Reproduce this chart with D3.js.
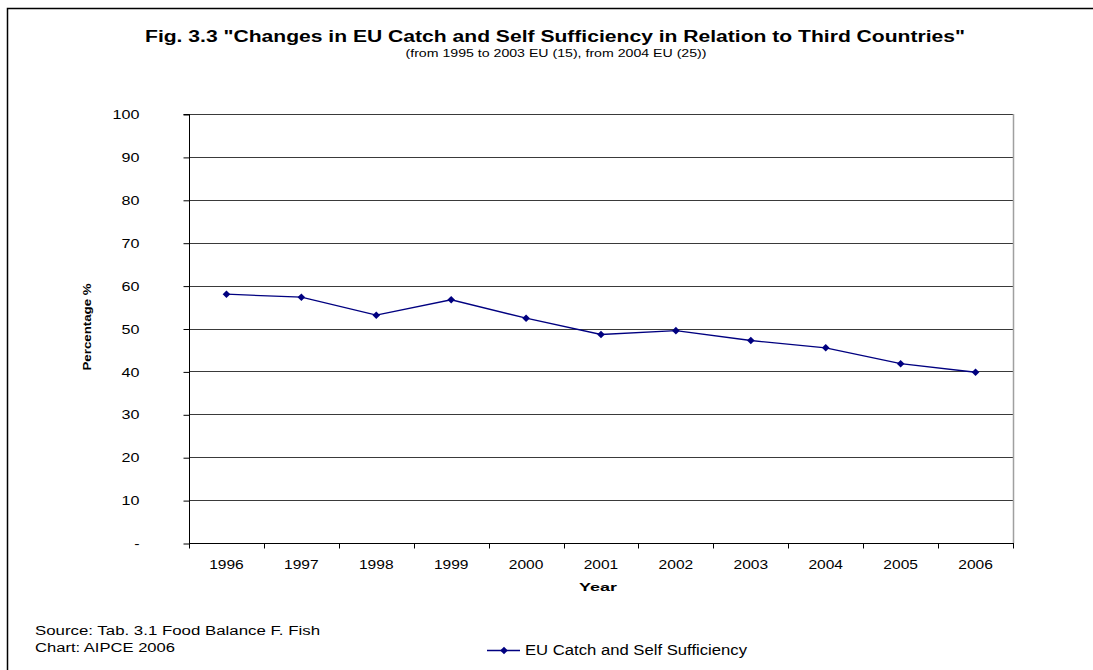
<!DOCTYPE html>
<html><head><meta charset="utf-8">
<script src="https://cdn.jsdelivr.net/npm/d3@7"></script>
<style>body{margin:0;background:#fff;} svg{display:block;font-family:Arial,"Liberation Sans",sans-serif;}</style>
</head><body>
<script>
const years = ["1996","1997","1998","1999","2000","2001","2002","2003","2004","2005","2006"];
const values = [58.0, 57.3, 53.1, 56.7, 52.4, 48.6, 49.5, 47.2, 45.5, 41.8, 39.8];
const yTicks = [0,10,20,30,40,50,60,70,80,90,100];
const seriesName = "EU Catch and Self Sufficiency";

const W = 1093, H = 670;
const svg = d3.select("body").append("svg").attr("width", W).attr("height", H);

// stretch text horizontally to match the wide rendering of the original
function stretch(sel, factor) {
  sel.each(function() {
    const len = this.getComputedTextLength();
    d3.select(this).attr("textLength", len * factor).attr("lengthAdjust", "spacingAndGlyphs");
  });
  return sel;
}
function toWidth(sel, w) {
  sel.attr("textLength", w).attr("lengthAdjust", "spacingAndGlyphs");
  return sel;
}

// outer chart border (only top and left visible)
svg.append("path").attr("d", "M7.5,670 V8.5 H1093").attr("fill","none").attr("stroke","#000").attr("stroke-width",1.5);

const m = {left:189, top:114, right:1013, bottom:543};
const x = d3.scaleBand().domain(years).range([m.left, m.right]);
const y = d3.scaleLinear().domain([0,100]).range([m.bottom, m.top]);

// gridlines
svg.append("g").selectAll("line").data(yTicks.filter(d=>d>0)).join("line")
  .attr("x1", m.left).attr("x2", m.right)
  .attr("y1", d=>Math.round(y(d))+0.5).attr("y2", d=>Math.round(y(d))+0.5)
  .attr("stroke","#3a3a3a").attr("stroke-width",1);
// plot right border
svg.append("line").attr("x1", m.right+0.5).attr("x2", m.right+0.5).attr("y1", m.top).attr("y2", m.bottom)
  .attr("stroke","#a0a0a0").attr("stroke-width",1.5);

// y axis
const yAxis = d3.axisLeft(y).tickValues(yTicks).tickSize(6).tickPadding(44)
  .tickFormat(d => d === 0 ? "-" : d);
const gy = svg.append("g").attr("transform", `translate(${m.left+0.5},0.5)`).call(yAxis);
gy.select(".domain").attr("stroke","#000").attr("d", `M-6,${m.top}H0V${m.bottom}`);
gy.selectAll(".tick line").attr("stroke","#000");
gy.selectAll(".tick text").attr("font-size",13).attr("fill","#000").attr("font-family","Arial,'Liberation Sans',sans-serif");
stretch(gy.selectAll(".tick text"), 1.24);

// x axis
const gx = svg.append("g").attr("transform", `translate(0,${m.bottom+0.5})`);
gx.append("line").attr("x1", m.left).attr("x2", m.right+1).attr("stroke","#000");
const bounds = years.map(d=>x(d)).concat([m.right]);
gx.selectAll("line.tk").data(bounds).join("line").attr("class","tk")
  .attr("x1", d=>Math.round(d)+0.5).attr("x2", d=>Math.round(d)+0.5).attr("y1",0).attr("y2",5).attr("stroke","#000");
const xl = gx.selectAll("text").data(years).join("text")
  .attr("x", d=>x(d)+x.bandwidth()/2).attr("y", 25)
  .attr("text-anchor","middle").attr("font-size",13.5).text(d=>d);
stretch(xl, 1.15);

// line
const line = d3.line().x((d,i)=>x(years[i])+x.bandwidth()/2).y(d=>y(d));
svg.append("path").datum(values).attr("d", line).attr("fill","none").attr("stroke","#000080").attr("stroke-width",1.3);
const diamond = "M0,-3.8L3.8,0L0,3.8L-3.8,0Z";
svg.append("g").selectAll("path").data(values).join("path")
  .attr("transform",(d,i)=>`translate(${x(years[i])+x.bandwidth()/2},${y(d)})`)
  .attr("d", diamond).attr("fill","#000080");

// titles
toWidth(svg.append("text").attr("x",555).attr("y",42).attr("text-anchor","middle").attr("font-weight","bold").attr("font-size",16)
  .text('Fig. 3.3 "Changes in EU Catch and Self Sufficiency in Relation to Third Countries"'), 820);
toWidth(svg.append("text").attr("x",556).attr("y",57).attr("text-anchor","middle").attr("font-size",10.5)
  .text("(from 1995 to 2003 EU (15), from 2004 EU (25))"), 301);

// axis titles
toWidth(svg.append("text").attr("x",598).attr("y",591).attr("text-anchor","middle").attr("font-weight","bold").attr("font-size",11.5).text("Year"), 38);
toWidth(svg.append("text").attr("transform","translate(91,327) rotate(-90)").attr("text-anchor","middle").attr("font-weight","bold").attr("font-size",11.5)
  .text("Percentage %"), 87);

// source
toWidth(svg.append("text").attr("x",35).attr("y",635).attr("font-size",12.5).text("Source: Tab. 3.1 Food Balance F. Fish"), 285);
toWidth(svg.append("text").attr("x",35).attr("y",652).attr("font-size",12.5).text("Chart: AIPCE 2006"), 140);

// legend
const lg = svg.append("g");
lg.append("line").attr("x1",487).attr("x2",520).attr("y1",650.5).attr("y2",650.5).attr("stroke","#000080").attr("stroke-width",1.3);
lg.append("path").attr("transform","translate(504,650.5)").attr("d",diamond).attr("fill","#000080");
toWidth(lg.append("text").attr("x",525).attr("y",655).attr("font-size",14).text(seriesName), 222);
</script>
</body></html>
